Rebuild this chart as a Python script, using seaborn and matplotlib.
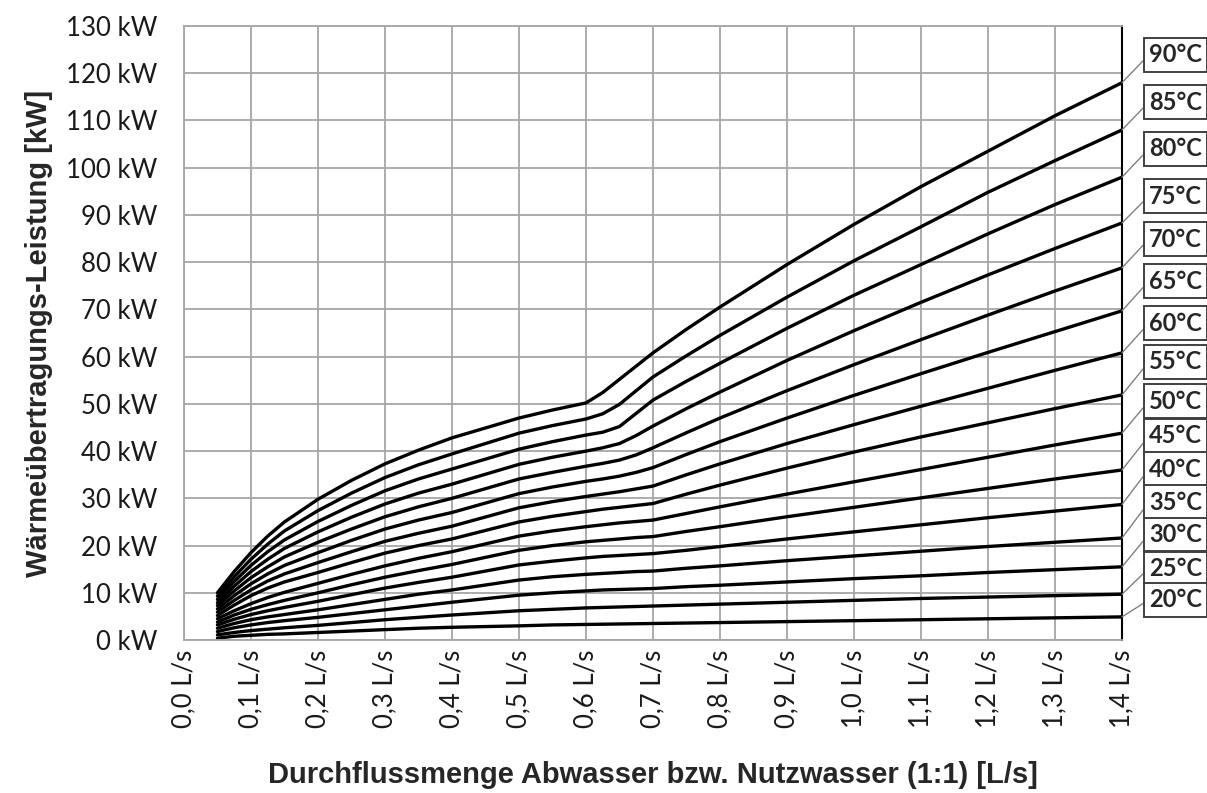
import pandas as pd
import matplotlib.pyplot as plt
import seaborn as sns
from matplotlib.ticker import FuncFormatter, MultipleLocator

# flow rate [L/s] and heat transfer [kW] per inlet temperature
flow = [0.05, 0.075, 0.1, 0.125, 0.15, 0.2, 0.25, 0.3, 0.35, 0.4, 0.5, 0.55,
        0.6, 0.625, 0.65, 0.675, 0.7, 0.75, 0.8, 0.9, 1.0, 1.1, 1.2, 1.3, 1.4]

p90 = [10.0, 14.5, 18.5, 22.0, 25.0, 29.8, 33.8, 37.3, 40.2, 42.8, 47.0, 48.7, 50.2, 52.4, 55.2, 58.0, 60.8, 65.8, 70.5, 79.5, 88.0, 96.0, 103.5, 111.0, 118.0]
p85 = [9.3, 13.4, 17.1, 20.3, 23.1, 27.4, 31.1, 34.4, 37.1, 39.4, 43.8, 45.4, 46.8, 47.9, 49.9, 52.8, 55.7, 60.2, 64.5, 72.6, 80.3, 87.5, 94.8, 101.5, 108.0]
p80 = [8.6, 12.4, 15.8, 18.7, 21.2, 25.1, 28.5, 31.6, 34.1, 36.2, 40.4, 42.0, 43.4, 44.0, 45.2, 48.0, 50.8, 54.8, 58.6, 66.0, 73.0, 79.5, 86.0, 92.2, 98.0]
p75 = [7.9, 11.4, 14.5, 17.1, 19.4, 22.9, 26.0, 28.8, 31.1, 33.0, 37.2, 38.7, 40.0, 40.7, 41.6, 43.3, 45.3, 49.0, 52.5, 59.2, 65.5, 71.5, 77.3, 82.9, 88.3]
p70 = [7.3, 10.4, 13.2, 15.5, 17.6, 20.7, 23.5, 26.1, 28.2, 30.0, 34.1, 35.5, 36.8, 37.4, 38.1, 39.2, 40.7, 43.9, 47.0, 52.8, 58.3, 63.6, 68.8, 73.9, 78.8]
p65 = [6.6, 9.4, 11.9, 14.0, 15.8, 18.5, 21.1, 23.5, 25.4, 27.0, 31.0, 32.4, 33.6, 34.1, 34.7, 35.5, 36.5, 39.3, 42.0, 47.0, 51.8, 56.4, 60.9, 65.3, 69.7]
p60 = [5.9, 8.4, 10.6, 12.5, 14.0, 16.4, 18.7, 20.9, 22.6, 24.1, 28.0, 29.3, 30.4, 30.9, 31.4, 32.0, 32.6, 35.0, 37.3, 41.6, 45.6, 49.5, 53.3, 57.1, 60.8]
p55 = [5.2, 7.4, 9.4, 11.0, 12.3, 14.3, 16.4, 18.4, 20.0, 21.4, 25.0, 26.2, 27.2, 27.7, 28.1, 28.5, 28.9, 30.9, 32.8, 36.4, 39.8, 43.0, 46.0, 49.0, 51.9]
p50 = [4.5, 6.2, 7.7, 9.0, 10.1, 12.0, 13.9, 15.7, 17.3, 18.7, 22.0, 23.1, 24.0, 24.4, 24.8, 25.1, 25.4, 26.8, 28.2, 30.9, 33.5, 36.1, 38.7, 41.3, 43.8]
p45 = [3.8, 5.3, 6.5, 7.5, 8.4, 10.0, 11.7, 13.3, 14.7, 16.0, 19.0, 20.0, 20.8, 21.1, 21.4, 21.7, 21.9, 23.0, 24.0, 26.1, 28.1, 30.1, 32.1, 34.1, 36.0]
p40 = [3.2, 4.4, 5.4, 6.2, 6.9, 8.2, 9.6, 11.0, 12.2, 13.3, 15.9, 16.7, 17.4, 17.7, 17.9, 18.1, 18.3, 19.0, 19.8, 21.4, 22.9, 24.4, 25.9, 27.3, 28.7]
p35 = [2.5, 3.5, 4.3, 4.9, 5.4, 6.4, 7.5, 8.6, 9.7, 10.6, 12.7, 13.4, 13.9, 14.1, 14.3, 14.5, 14.6, 15.2, 15.7, 16.8, 17.8, 18.8, 19.8, 20.7, 21.6]
p30 = [1.8, 2.6, 3.2, 3.7, 4.1, 4.8, 5.6, 6.4, 7.2, 8.0, 9.5, 10.0, 10.4, 10.6, 10.7, 10.8, 10.9, 11.3, 11.6, 12.3, 13.0, 13.6, 14.3, 14.9, 15.5]
p25 = [1.1, 1.6, 2.0, 2.3, 2.6, 3.1, 3.7, 4.3, 4.8, 5.3, 6.2, 6.5, 6.8, 6.9, 7.0, 7.1, 7.2, 7.4, 7.6, 8.0, 8.4, 8.8, 9.1, 9.4, 9.7]
p20 = [0.4, 0.8, 1.0, 1.2, 1.3, 1.6, 1.9, 2.2, 2.5, 2.7, 3.0, 3.2, 3.3, 3.35, 3.4, 3.45, 3.5, 3.6, 3.7, 3.9, 4.1, 4.3, 4.5, 4.7, 4.9]

temps = [90, 85, 80, 75, 70, 65, 60, 55, 50, 45, 40, 35, 30, 25, 20]
series = [p90, p85, p80, p75, p70, p65, p60, p55, p50, p45, p40, p35, p30, p25, p20]
# vertical position (kW) of each boxed label on the right
label_y = [123.9, 113.9, 104.0, 94.0, 84.9, 76.0, 67.1, 58.9, 50.6, 43.2, 36.2, 29.2, 22.4, 15.2, 8.5]

rows = []
for t, vals in zip(temps, series):
    for x, v in zip(flow, vals):
        rows.append({'flow': x, 'kW': v, 'temp': t})
df = pd.DataFrame(rows)

sns.set_style('white')
plt.rcParams['font.family'] = ['Lato', 'DejaVu Sans']

fig = plt.figure(figsize=(12.07, 7.93), dpi=100)
ax = fig.add_axes([0.1524, 0.1929, 0.9296 - 0.1524, 0.9672 - 0.1929])

sns.lineplot(data=df, x='flow', y='kW', units='temp', estimator=None,
             color='black', linewidth=2.4, ax=ax, legend=False)

ax.set_xlim(0, 1.4)
ax.set_ylim(0, 130)
ax.xaxis.set_major_locator(MultipleLocator(0.1))
ax.yaxis.set_major_locator(MultipleLocator(10))
ax.xaxis.set_major_formatter(FuncFormatter(lambda v, p: f"{v:.1f}".replace('.', ',') + " L/s"))
ax.yaxis.set_major_formatter(FuncFormatter(lambda v, p: f"{v:.0f} kW"))
ax.grid(True, color='#a6a6a6', linewidth=1.3)
ax.set_axisbelow(True)

for side in ['left', 'bottom', 'top']:
    ax.spines[side].set_color('#a6a6a6')
    ax.spines[side].set_linewidth(1.3)
ax.spines['right'].set_color('black')
ax.spines['right'].set_linewidth(1.5)

ax.tick_params(axis='both', which='major', direction='out', length=6, width=1.3,
               color='#a6a6a6', labelsize=18.5, labelcolor='#1a1a1a')
ax.tick_params(axis='y', pad=13)
ax.tick_params(axis='x', pad=1, labelrotation=90)

ax.set_xlabel('Durchflussmenge Abwasser bzw. Nutzwasser (1:1) [L/s]',
              family='Liberation Sans', fontsize=21, fontweight='bold')
ax.set_ylabel('Wärmeübertragungs-Leistung [kW]',
              family='Liberation Sans', fontsize=21, fontweight='bold')
ax.xaxis.set_label_coords(0.5, -0.197)
ax.yaxis.set_label_coords(-0.14, 0.5)

for t, vals, ly in zip(temps, series, label_y):
    ax.annotate(f"{t}°C", xy=(1.4, vals[-1]), xytext=(1.44, ly),
                ha='left', va='center', fontsize=17, fontweight='bold',
                annotation_clip=False,
                bbox=dict(boxstyle='square,pad=0.22', fc='white', ec='#404040', lw=1.4),
                arrowprops=dict(arrowstyle='-', color='#808080', lw=1.0,
                                relpos=(0, 0.5), shrinkA=0, shrinkB=0))

fig.savefig('out.png', dpi=100)
